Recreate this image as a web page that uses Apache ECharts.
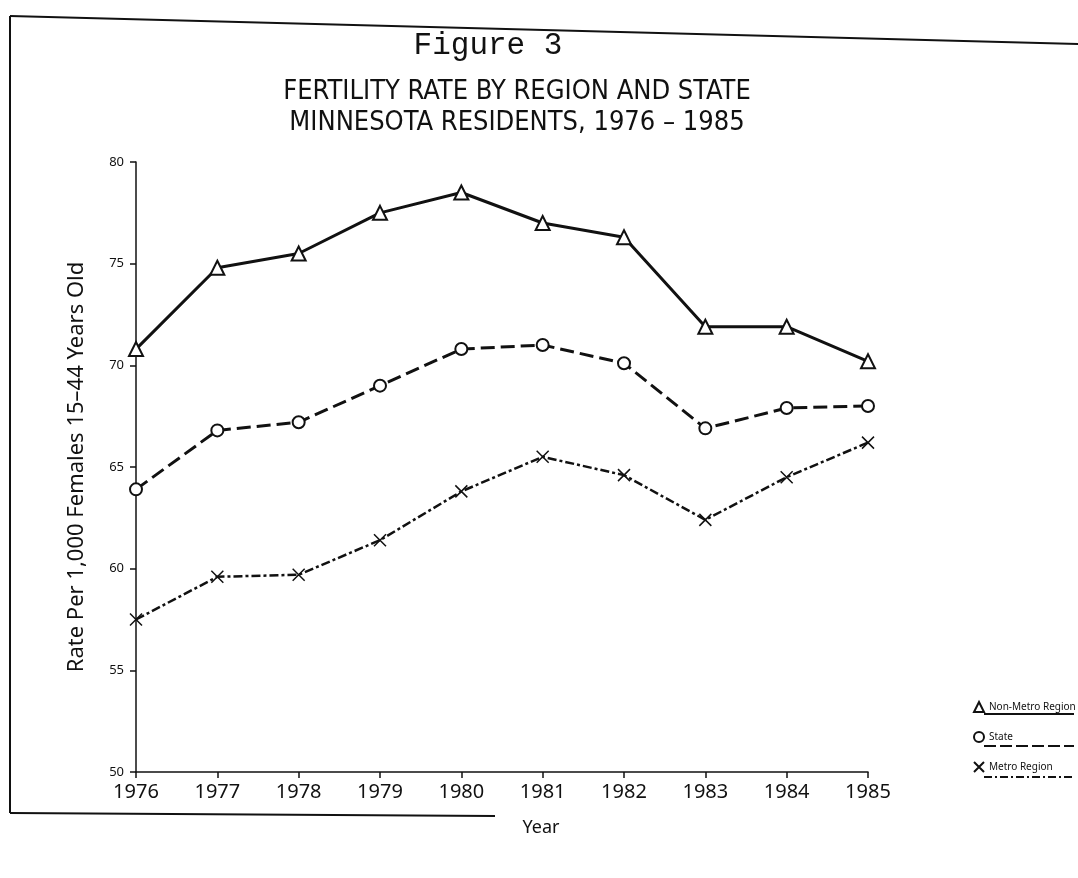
<!DOCTYPE html>
<html>
<head>
<meta charset="utf-8">
<title>Fertility rate by region and state</title>
<script src="https://cdn.jsdelivr.net/npm/echarts@6.0.0/dist/echarts.min.js"></script>
<style>
    html, body { margin: 0; padding: 0; background: #fff; }
    #chart { width: 1078px; height: 878px; }
</style>
</head>
<body>
<div id="chart"></div>
<script>
// values (births per 1,000 females 15-44)
var years = ['1976', '1977', '1978', '1979', '1980', '1981', '1982', '1983', '1984', '1985'];
var nonMetro = [70.8, 74.8, 75.5, 77.5, 78.5, 77.0, 76.3, 71.9, 71.9, 70.2];
var state = [63.9, 66.8, 67.2, 69.0, 70.8, 71.0, 70.1, 66.9, 67.9, 68.0];
var metro = [57.5, 59.6, 59.7, 61.4, 63.8, 65.5, 64.6, 62.4, 64.5, 66.2];
var seriesNames = ['Non-Metro Region', 'State', 'Metro Region'];

var crossPath = 'path://M0,0L10,10M10,0L0,10';
var labelFont = '"Noto Sans", "DejaVu Sans", sans-serif';
var narrowFont = '"Liberation Sans Narrow", "DejaVu Sans Condensed", "Noto Sans", sans-serif';

var myChart = echarts.init(document.getElementById('chart'));

var options = {
    backgroundColor: '#fff',
    animation: false,
    title: [
        {
            text: 'Figure 3',
            left: 483,
            top: 25,
            textAlign: 'center',
            textStyle: {
                fontFamily: '"Liberation Mono", "DejaVu Sans Mono", monospace',
                fontSize: 31,
                fontWeight: 'normal',
                color: '#111'
            }
        },
        {
            text: 'FERTILITY RATE BY REGION AND STATE\nMINNESOTA RESIDENTS, 1976 \u2013 1985',
            left: 512,
            top: 71,
            textAlign: 'center',
            textStyle: {
                fontFamily: narrowFont,
                fontSize: 27,
                lineHeight: 31,
                fontWeight: 'normal',
                color: '#111'
            }
        }
    ],
    legend: {
        orient: 'vertical',
        left: 968,
        top: 696,
        itemWidth: 10,
        itemHeight: 10,
        itemGap: 18,
        textStyle: { fontFamily: labelFont, fontSize: 10, color: '#111' },
        data: [
            { name: seriesNames[0], icon: 'emptyTriangle' },
            { name: seriesNames[1], icon: 'emptyCircle' },
            { name: seriesNames[2], icon: crossPath }
        ]
    },
    grid: {
        left: 136,
        right: 210,
        top: 162,
        bottom: 106
    },
    xAxis: {
        type: 'category',
        boundaryGap: false,
        data: years,
        name: 'Year',
        nameLocation: 'middle',
        nameGap: 47,
        nameTextStyle: { fontFamily: labelFont, fontSize: 18, color: '#111', padding: [0, 0, 0, 78] },
        axisLine: { lineStyle: { color: '#111', width: 1.5 } },
        axisTick: { length: 6, lineStyle: { color: '#111', width: 1.5 } },
        axisLabel: { margin: 10, fontFamily: labelFont, fontSize: 20, color: '#111' }
    },
    yAxis: {
        type: 'value',
        min: 50,
        max: 80,
        interval: 5,
        name: 'Rate Per 1,000 Females 15\u201344 Years Old',
        nameLocation: 'middle',
        nameGap: 48,
        nameTextStyle: { fontFamily: labelFont, fontSize: 22, color: '#111' },
        splitLine: { show: false },
        axisLine: { show: true, lineStyle: { color: '#111', width: 1.5 } },
        axisTick: { show: true, length: 6, lineStyle: { color: '#111', width: 1.5 } },
        axisLabel: { margin: 12, fontFamily: labelFont, fontSize: 13, color: '#111' }
    },
    series: [
        {
            name: seriesNames[0],
            type: 'line',
            data: nonMetro,
            symbol: 'emptyTriangle',
            symbolSize: 14,
            itemStyle: { color: '#111', borderWidth: 1.5 },
            lineStyle: { color: '#111', width: 3, type: 'solid' }
        },
        {
            name: seriesNames[1],
            type: 'line',
            data: state,
            symbol: 'emptyCircle',
            symbolSize: 12,
            itemStyle: { color: '#111', borderWidth: 1.5 },
            lineStyle: { color: '#111', width: 3, type: [14, 6] }
        },
        {
            name: seriesNames[2],
            type: 'line',
            data: metro,
            symbol: crossPath,
            symbolSize: 12,
            itemStyle: { color: '#111', borderColor: '#111', borderWidth: 1.5 },
            lineStyle: { color: '#111', width: 2.5, type: [9, 3, 3, 3] }
        }
    ],
    graphic: [
        // page frame of the scanned sheet
        { type: 'line', shape: { x1: 10, y1: 16, x2: 1078, y2: 44 }, style: { stroke: '#111', lineWidth: 2 } },
        { type: 'line', shape: { x1: 10, y1: 16, x2: 10, y2: 813 }, style: { stroke: '#111', lineWidth: 2 } },
        { type: 'line', shape: { x1: 10, y1: 813, x2: 495, y2: 816 }, style: { stroke: '#111', lineWidth: 2 } },
        // legend underlines in each series' line style
        { type: 'line', shape: { x1: 984, y1: 714, x2: 1074, y2: 714 }, style: { stroke: '#111', lineWidth: 2 } },
        { type: 'line', shape: { x1: 984, y1: 746, x2: 1074, y2: 746 }, style: { stroke: '#111', lineWidth: 2, lineDash: [12, 4] } },
        { type: 'line', shape: { x1: 984, y1: 777, x2: 1074, y2: 777 }, style: { stroke: '#111', lineWidth: 2, lineDash: [8, 3, 2, 3] } }
    ]
};

myChart.setOption(options);
</script>
</body>
</html>
